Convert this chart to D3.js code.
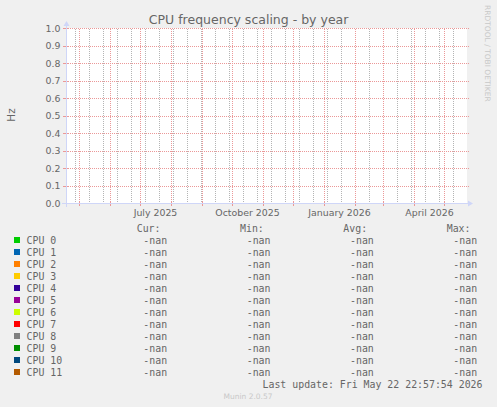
<!DOCTYPE html>
<html>
<head>
<meta charset="utf-8">
<script src="https://cdn.jsdelivr.net/npm/d3@7"></script>
<style>
  html, body { margin: 0; padding: 0; background: #f0f0f0; }
  svg { display: block; }
  text { font-family: "DejaVu Sans", sans-serif; fill: #666666; }
  .mono { font-family: "DejaVu Sans Mono", monospace; }
</style>
</head>
<body>
<svg id="chart" width="497" height="407"></svg>
<script>
// ---------- data ----------
const chartTitle = "CPU frequency scaling - by year";
const yAxisLabel = "Hz";
const periodStart = "2025-04-17T12:00:00Z";
const periodEnd = "2026-05-22T12:00:00Z";
const yTicks = [0.0, 0.1, 0.2, 0.3, 0.4, 0.5, 0.6, 0.7, 0.8, 0.9, 1.0];
const monthGrid = ["2025-05-01", "2025-06-01", "2025-07-01", "2025-08-01", "2025-09-01", "2025-10-01",
                   "2025-11-01", "2025-12-01", "2026-01-01", "2026-02-01", "2026-03-01", "2026-04-01", "2026-05-01"];
const xTickDates = ["2025-07-01", "2025-10-01", "2026-01-01", "2026-04-01"];
const xTickLabels = ["July 2025", "October 2025", "January 2026", "April 2026"];
const weekGridFirst = "2025-04-27";
const categories = ["CPU 0", "CPU 1", "CPU 2", "CPU 3", "CPU 4", "CPU 5",
                    "CPU 6", "CPU 7", "CPU 8", "CPU 9", "CPU 10", "CPU 11"];
const seriesColors = ["#00cc00", "#0066b3", "#ff8000", "#ffcc00", "#330099", "#990099",
                      "#ccff00", "#ff0000", "#808080", "#008f00", "#00487d", "#b35a00"];
// no samples were recorded for any CPU during the year
const cpuSamples = [[], [], [], [], [], [], [], [], [], [], [], []];
const curValues = [NaN, NaN, NaN, NaN, NaN, NaN, NaN, NaN, NaN, NaN, NaN, NaN];
const minValues = [NaN, NaN, NaN, NaN, NaN, NaN, NaN, NaN, NaN, NaN, NaN, NaN];
const avgValues = [NaN, NaN, NaN, NaN, NaN, NaN, NaN, NaN, NaN, NaN, NaN, NaN];
const maxValues = [NaN, NaN, NaN, NaN, NaN, NaN, NaN, NaN, NaN, NaN, NaN, NaN];
const statHeaders = ["Cur:", "Min:", "Avg:", "Max:"];
const lastUpdate = "Last update: Fri May 22 22:57:54 2026";
const footer = "Munin 2.0.57";
const watermark = "RRDTOOL / TOBI OETIKER";

// ---------- layout ----------
const svg = d3.select("#chart");
const W = 497, H = 407;
const plot = { left: 66, right: 466, top: 28, bottom: 203 };

const x = d3.scaleUtc()
  .domain([new Date(periodStart), new Date(periodEnd)])
  .range([plot.left, plot.right]);
const y = d3.scaleLinear().domain([0, 1]).range([plot.bottom, plot.top]);

const colOf = v => Math.floor(x(v));     // pixel column of a time
const rowOf = v => Math.round(y(v));     // pixel row of a value

svg.append("rect").attr("width", W).attr("height", H).attr("fill", "#f0f0f0");
svg.append("rect")
  .attr("x", plot.left).attr("y", plot.top)
  .attr("width", plot.right - plot.left + 1).attr("height", plot.bottom - plot.top)
  .attr("fill", "#ffffff");

const gridCol = "#b4b4b4";
const mgridCol = "#eb9898";

// dotted lines built from 1px squares (1 on, 1 off)
function vDots(c) {
  let s = "";
  for (let r = plot.bottom; r >= plot.top; r -= 2) s += `M${c},${r}h1v1h-1z`;
  return s;
}
function hDots(r) {
  let s = "";
  for (let c = plot.left - 2; c <= plot.right + 2; c += 2) s += `M${c},${r}h1v1h-1z`;
  return s;
}

// minor grid: every two weeks
const weekDates = [];
for (let d = new Date(weekGridFirst + "T00:00:00Z"); d <= x.domain()[1]; d = d3.utcDay.offset(d, 14)) {
  weekDates.push(d);
}
const g = svg.append("g").attr("shape-rendering", "crispEdges");
g.selectAll("path.minor").data(weekDates).join("path")
  .attr("class", "minor")
  .attr("d", d => vDots(colOf(d)))
  .attr("fill", gridCol);

// major grid: months
const monthDates = monthGrid.map(s => new Date(s + "T00:00:00Z"));
g.selectAll("path.major").data(monthDates).join("path")
  .attr("class", "major")
  .attr("d", d => vDots(colOf(d)))
  .attr("fill", mgridCol);
g.selectAll("rect.majortick").data(monthDates).join("rect")
  .attr("class", "majortick")
  .attr("x", d => colOf(d)).attr("width", 1)
  .attr("y", plot.bottom - 2).attr("height", 5)
  .attr("fill", mgridCol);

// horizontal grid
g.selectAll("path.hgrid").data(yTicks).join("path")
  .attr("class", "hgrid")
  .attr("d", d => hDots(rowOf(d)))
  .attr("fill", mgridCol);
g.selectAll("rect.htick").data(yTicks).join("rect")
  .attr("class", "htick")
  .attr("x", plot.left - 3).attr("width", 5)
  .attr("y", d => rowOf(d)).attr("height", 1)
  .attr("fill", mgridCol);

// series lines (no defined samples -> nothing drawn)
const line = d3.line().defined(d => !isNaN(d.v)).x(d => x(d.t)).y(d => y(d.v));
svg.append("g").selectAll("path").data(cpuSamples).join("path")
  .attr("d", d => line(d) || null)
  .attr("fill", "none")
  .attr("stroke", (d, i) => seriesColors[i]);

// axes
const axisCol = "#cfd6f8";
const a = svg.append("g").attr("shape-rendering", "crispEdges");
a.append("line").attr("x1", plot.left - 4).attr("x2", plot.right + 4)
  .attr("y1", plot.bottom + 0.5).attr("y2", plot.bottom + 0.5).attr("stroke", axisCol);
a.append("line").attr("x1", plot.left + 0.5).attr("x2", plot.left + 0.5)
  .attr("y1", plot.bottom + 4).attr("y2", plot.top - 4).attr("stroke", axisCol);
svg.append("path")
  .attr("d", `M${plot.right + 2},${plot.bottom + 0.5 - 3}L${plot.right + 2},${plot.bottom + 0.5 + 3}L${plot.right + 7},${plot.bottom + 0.5}Z`)
  .attr("fill", axisCol);
svg.append("path")
  .attr("d", `M${plot.left + 0.5 - 3},${plot.top - 2}L${plot.left + 0.5 + 3},${plot.top - 2}L${plot.left + 0.5},${plot.top - 7}Z`)
  .attr("fill", axisCol);

// y tick labels
svg.append("g").selectAll("text").data(yTicks).join("text")
  .attr("x", 60.5).attr("y", d => y(d) + 3.6)
  .attr("text-anchor", "end")
  .style("font-size", "9.4px")
  .text(d => d3.format(".1f")(d));

// x tick labels (centred half a month after the tick)
svg.append("g").selectAll("text").data(xTickDates).join("text")
  .attr("x", d => x(d3.utcDay.offset(new Date(d + "T00:00:00Z"), 15)))
  .attr("y", 215.6)
  .attr("text-anchor", "middle")
  .style("font-size", "9.4px")
  .text((d, i) => xTickLabels[i]);

// title
svg.append("text").attr("x", 248.6).attr("y", 24)
  .attr("text-anchor", "middle").style("font-size", "12.5px").text(chartTitle);

// y label
svg.append("text").attr("transform", "translate(15,115) rotate(-90)")
  .attr("text-anchor", "middle").style("font-size", "10.4px").text(yAxisLabel);

// watermark
svg.append("text").attr("transform", "translate(485,5) rotate(90)")
  .attr("text-anchor", "start").style("font-size", "7.5px")
  .style("fill", "#c8c8c8").text(watermark);

// legend
const fmt = v => isNaN(v) ? "-nan" : d3.format(".2f")(v);
const colHeaderX = [136.7, 240, 343.3, 446.7];
const colValueX = [143.3, 246.7, 350, 453.3];
const rowBase = 243.5, rowStep = 12;
const legendFont = "9.9px";

svg.append("g").selectAll("text").data(statHeaders).join("text")
  .attr("class", "mono")
  .attr("x", (d, i) => colHeaderX[i]).attr("y", rowBase - rowStep)
  .style("font-size", legendFont).text(d => d);

const rows = svg.append("g").selectAll("g").data(categories).join("g")
  .attr("transform", (d, i) => `translate(0,${rowBase + i * rowStep})`);
rows.append("rect")
  .attr("x", 14).attr("y", -6.5).attr("width", 6).attr("height", 6)
  .attr("fill", (d, i) => seriesColors[i]);
rows.append("text").attr("class", "mono")
  .attr("x", 26.6).attr("y", 0).style("font-size", legendFont).text(d => d);
const statArrays = [curValues, minValues, avgValues, maxValues];
statArrays.forEach((arr, c) => {
  rows.append("text").attr("class", "mono")
    .attr("x", colValueX[c]).attr("y", 0).style("font-size", legendFont)
    .text((d, i) => fmt(arr[i]));
});

svg.append("text").attr("class", "mono")
  .attr("x", 482.5).attr("y", 387.7).attr("text-anchor", "end")
  .style("font-size", legendFont).text(lastUpdate);

svg.append("text").attr("x", 248).attr("y", 399)
  .attr("text-anchor", "middle").style("font-size", "7.5px")
  .style("fill", "#c8c8c8").text(footer);
</script>
</body>
</html>
